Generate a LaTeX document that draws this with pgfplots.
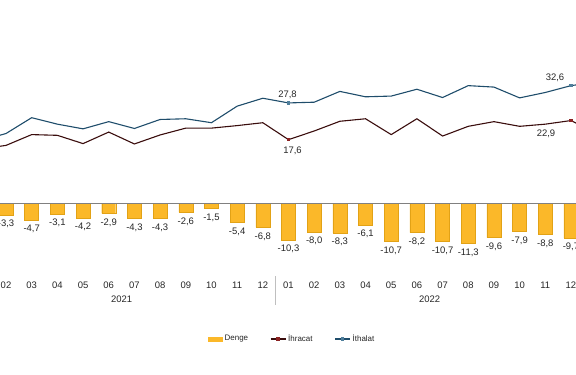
\documentclass[border=0pt]{standalone}
\usepackage{fontspec}
\setmainfont{Liberation Sans}
\usepackage{pgfplots}
\pgfplotsset{compat=1.18}
\definecolor{bary}{HTML}{FBB829}
\definecolor{baredge}{HTML}{E2A216}
\definecolor{imp}{HTML}{1F4D6B}
\definecolor{impm}{HTML}{4F7F9C}
\definecolor{expc}{HTML}{3A0D0D}
\definecolor{expm}{HTML}{8B2222}
\definecolor{txt}{HTML}{262626}
\pgfplotsset{
  lineleg/.style={legend image code/.code={\draw[##1, mark indices={2}] plot coordinates {(0bp,0bp) (7.5bp,0bp) (15bp,0bp)};}},
}
\begin{document}
\begin{tikzpicture}
\path[use as bounding box] (0bp,0bp) rectangle (576bp,375bp);
\clip (0bp,0bp) rectangle (576bp,375bp);
\begin{axis}[
  at={(0bp,100bp)}, anchor=south west,
  scale only axis, width=576bp, height=275bp,
  xmin=0.766, xmax=23.196, ymin=-20, ymax=56.39,
  clip=false,
  axis line style={draw=none},
  major tick length=0pt,
  ytick=\empty,
  xtick={0,...,24},
  xticklabels={01,02,03,04,05,06,07,08,09,10,11,12,01,02,03,04,05,06,07,08,09,10,11,12,01},
  xticklabel style={font=\fontsize{9.5}{11}\selectfont, text=txt, anchor=base, yshift=-13.5bp},
  /pgf/number format/.cd, use comma, fixed, fixed zerofill, precision=1, assume math mode=true, /pgfplots/.cd,
  legend style={at={(axis description cs:0.356,-0.2327)}, anchor=west, draw=none, fill=none,
    font=\fontsize{8}{9}\selectfont, text=txt, legend columns=3,
    /tikz/every even column/.append style={column sep=20bp}},
]
\addplot[ybar, bar width=0.545, fill=bary, draw=baredge, line width=0.4bp,
  nodes near coords,
  nodes near coords style={font=\fontsize{9.5}{11}\selectfont, text=txt, inner sep=5bp},
  legend image code/.code={\fill[bary] (0bp,-2bp) rectangle (14bp,2bp);}]
  table {
x y
0 -2.3
1 -3.3
2 -4.7
3 -3.1
4 -4.2
5 -2.9
6 -4.3
7 -4.3
8 -2.6
9 -1.5
10 -5.4
11 -6.8
12 -10.3
13 -8.0
14 -8.3
15 -6.1
16 -10.7
17 -8.2
18 -10.7
19 -11.3
20 -9.6
21 -7.9
22 -8.8
23 -9.7
24 -14.2
};
\addlegendentry{Denge}
\addplot[expc, line width=1.1bp, mark=square*, mark size=1.2bp, mark indices={13,24},
  mark options={fill=expm, draw=expm}, lineleg]
  table {
x y
0 15.0
1 16.0
2 19.0
3 18.8
4 16.5
5 19.7
6 16.4
7 18.9
8 20.8
9 20.8
10 21.5
11 22.3
12 17.6
13 20.0
14 22.7
15 23.4
16 19.0
17 23.4
18 18.6
19 21.3
20 22.6
21 21.3
22 21.9
23 22.9
24 19.4
};
\addlegendentry{İhracat}
\addplot[imp, line width=1.1bp, mark=square*, mark size=1.2bp, mark indices={13,24},
  mark options={fill=impm, draw=impm}, lineleg]
  table {
x y
0 17.3
1 19.3
2 23.7
3 21.9
4 20.6
5 22.6
6 20.7
7 23.2
8 23.4
9 22.3
10 26.9
11 29.1
12 27.8
13 28.0
14 31.0
15 29.5
16 29.7
17 31.6
18 29.3
19 32.6
20 32.2
21 29.2
22 30.7
23 32.6
24 33.6
};
\addlegendentry{İthalat}
\draw[black!50, line width=0.8bp] (axis cs:-1,0) -- (axis cs:25,0);
\draw[black!25, line width=1.2bp] (axis cs:11.5,-20) ++(0bp,-1bp) -- ++(0bp,-29bp);
\draw[black!25, line width=1.2bp] (axis cs:23.5,-20) ++(0bp,-1bp) -- ++(0bp,-29bp);
\node[font=\fontsize{9.5}{11}\selectfont, text=txt, anchor=base, yshift=-27.5bp] at (axis cs:5.5,-20) {2021};
\node[font=\fontsize{9.5}{11}\selectfont, text=txt, anchor=base, yshift=-27.5bp] at (axis cs:17.5,-20) {2022};
\node[font=\fontsize{9.5}{11}\selectfont, text=txt, anchor=base, yshift=5.5bp, xshift=-1bp] at (axis cs:12,27.8) {27,8};
\node[font=\fontsize{9.5}{11}\selectfont, text=txt, anchor=base, yshift=-13.9bp, xshift=4bp] at (axis cs:12,17.6) {17,6};
\node[font=\fontsize{9.5}{11}\selectfont, text=txt, anchor=base, yshift=5.4bp, xshift=-16bp] at (axis cs:23,32.6) {32,6};
\node[font=\fontsize{9.5}{11}\selectfont, text=txt, anchor=base, yshift=-15.6bp, xshift=-25bp] at (axis cs:23,22.9) {22,9};
\end{axis}
\end{tikzpicture}
\end{document}
